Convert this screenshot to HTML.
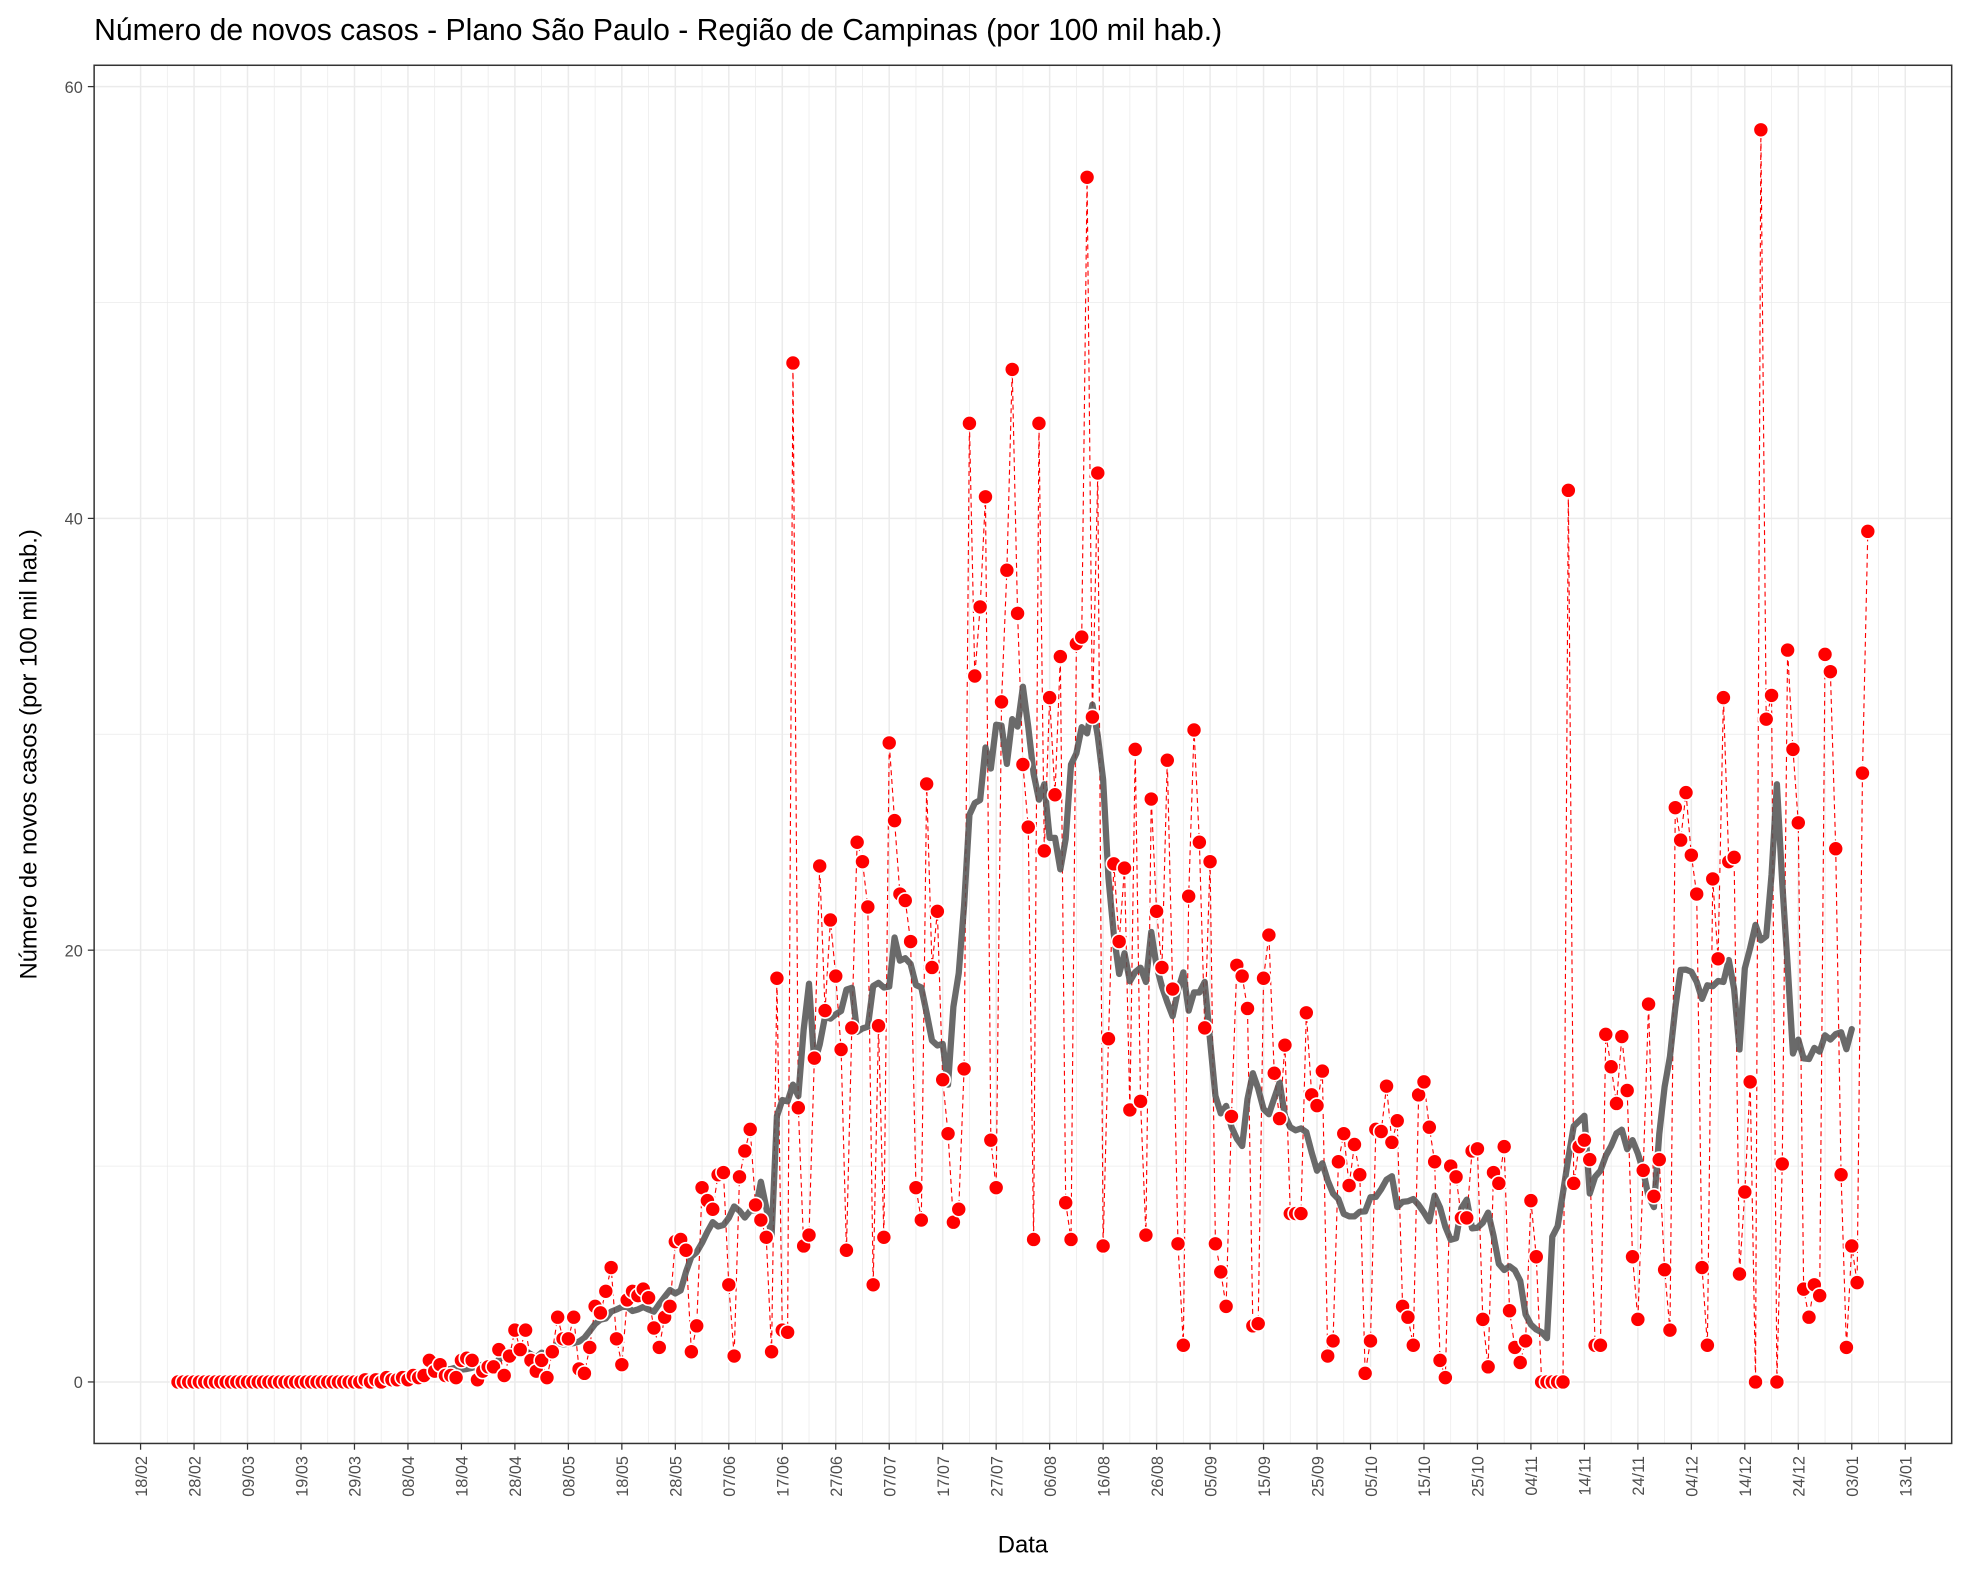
<!DOCTYPE html>
<html><head><meta charset="utf-8"><style>
html,body{margin:0;padding:0;background:#fff}
svg{display:block}
text{font-family:"Liberation Sans",Arial,sans-serif}
</style></head><body>
<svg id="chart" width="1968" height="1574" viewBox="0 0 1568 1254" preserveAspectRatio="none" xmlns="http://www.w3.org/2000/svg">
<text x="75" y="32" font-size="24" fill="#000">Número de novos casos - Plano São Paulo - Região de Campinas (por 100 mil hab.)</text>
<rect x="75" y="52" width="1480" height="1098" fill="#fff"/>
<g id="grid"></g>
<g id="series"></g>
<rect x="75" y="52" width="1480" height="1098" fill="none" stroke="#333" stroke-width="1.2"/>
<g id="axes"></g>
<text x="815" y="1237" font-size="19" text-anchor="middle">Data</text>
<text transform="translate(29,601) rotate(-90)" font-size="19" text-anchor="middle">Número de novos casos (por 100 mil hab.)</text>
</svg>
<script>
const tickLabels = ["18/02","28/02","09/03","19/03","29/03","08/04","18/04","28/04","08/05","18/05","28/05","07/06","17/06","27/06","07/07","17/07","27/07","06/08","16/08","26/08","05/09","15/09","25/09","05/10","15/10","25/10","04/11","14/11","24/11","04/12","14/12","24/12","03/01","13/01"];
const yTicks = [0,20,40,60];
const lastDay = 323;
const zerosPrefix = [0,0,0,0,0,0,0,0,0,0,0,0,0,0,0,0,0,0,0,0,0,0,0,0,0,0,0,0,0,0,0,0,0,0,0,0.1,0,0.1,0,0.2,0.1,0.1];
const cases = [0.2,0.1,0.3,0.2,0.3,1.0,0.5,0.8,0.3,0.3,0.2,1.0,1.1,1.0,0.1,0.5,0.7,0.7,1.5,0.3,1.2,2.4,1.5,2.4,1.0,0.5,1.0,0.2,1.4,3.0,2.0,2.0,3.0,0.6,0.4,1.6,3.5,3.2,4.2,5.3,2.0,0.8,3.8,4.2,4.0,4.3,3.9,2.5,1.6,3.0,3.5,6.5,6.6,6.1,1.4,2.6,9.0,8.4,8.0,9.6,9.7,4.5,1.2,9.5,10.7,11.7,8.2,7.5,6.7,1.4,18.7,2.4,2.3,47.2,12.7,6.3,6.8,15.0,23.9,17.2,21.4,18.8,15.4,6.1,16.4,25.0,24.1,22.0,4.5,16.5,6.7,29.6,26.0,22.6,22.3,20.4,9.0,7.5,27.7,19.2,21.8,14.0,11.5,7.4,8.0,14.5,44.4,32.7,35.9,41.0,11.2,9.0,31.5,37.6,46.9,35.6,28.6,25.7,6.6,44.4,24.6,31.7,27.2,33.6,8.3,6.6,34.2,34.5,55.8,30.8,42.1,6.3,15.9,24.0,20.4,23.8,12.6,29.3,13.0,6.8,27.0,21.8,19.2,28.8,18.2,6.4,1.7,22.5,30.2,25.0,16.4,24.1,6.4,5.1,3.5,12.3,19.3,18.8,17.3,2.6,2.7,18.7,20.7,14.3,12.2,15.6,7.8,7.8,7.8,17.1,13.3,12.8,14.4,1.2,1.9,10.2,11.5,9.1,11.0,9.6,0.4,1.9,11.7,11.6,13.7,11.1,12.1,3.5,3.0,1.7,13.3,13.9,11.8,10.2,1.0,0.2,10.0,9.5,7.6,7.6,10.7,10.8,2.9,0.7,9.7,9.2,10.9,3.3,1.6,0.9,1.9,8.4,5.8,0,0,0,0,0,41.3,9.2,10.9,11.2,10.3,1.7,1.7,16.1,14.6,12.9,16.0,13.5,5.8,2.9,9.8,17.5,8.6,10.3,5.2,2.4,26.6,25.1,27.3,24.4,22.6,5.3,1.7,23.3,19.6,31.7,24.1,24.3,5.0,8.8,13.9,0,58.0,30.7,31.8,0,10.1,33.9,29.3,25.9,4.3,3.0,4.5,4.0,33.7,32.9,24.7,9.6,1.6,6.3,4.6,28.2,39.4];

const NS="http://www.w3.org/2000/svg";
const X0=112, PXD=(1518-112)/330, Y0=1101, PXU=(1101-69)/60;
const xs=d=>X0+d*PXD, ys=v=>Y0-v*PXU;
function mk(tag,attrs,parent){const e=document.createElementNS(NS,tag);for(const k in attrs)e.setAttribute(k,attrs[k]);parent.appendChild(e);return e;}
const grid=document.getElementById('grid'),axes=document.getElementById('axes'),series=document.getElementById('series');

for(let i=0;i<tickLabels.length*2-1;i++){
  const x=xs(i*5);
  const l=mk('line',{x1:x,x2:x,y1:52,y2:1150,stroke:'#ebebeb','stroke-width':i%2?0.6:1.2},grid);
  
  
}
for(let v=0;v<=60;v+=10){
  const y=ys(v);
  const l=mk('line',{x1:75,x2:1555,y1:y,y2:y,stroke:'#ebebeb','stroke-width':v%20?0.6:1.2},grid);
  
  
}
yTicks.forEach(v=>{
  const y=ys(v);
  const t=mk('line',{x1:70,x2:75,y1:y,y2:y,stroke:'#333','stroke-width':1},axes);
  
  
  const lb=mk('text',{x:66,y:y+5,'font-size':13,'text-anchor':'end',fill:'#4d4d4d'},axes);
  lb.textContent=v;
  
  
});
tickLabels.forEach((s,i)=>{
  const x=xs(i*10);
  const t=mk('line',{x1:x,x2:x,y1:1150,y2:1155,stroke:'#333','stroke-width':1},axes);
  
  
  const lb=mk('text',{transform:`translate(${x+5},1160) rotate(-90)`,'font-size':13,'text-anchor':'end',fill:'#4d4d4d'},axes);
  lb.textContent=s;
  
  
});

const all=zerosPrefix.concat(cases);
const n=all.length, firstDay=lastDay-(n-1);
const pts=all.map((v,i)=>[xs(firstDay+i),ys(v)]);
const dl=mk('polyline',{points:pts.map(p=>p.join(',')).join(' '),fill:'none',stroke:'#ff0000','stroke-width':0.9,'stroke-dasharray':'4,3'},series);


const ma=[];
for(let i=3;i<n-3;i++){let s=0;for(let k=-3;k<=3;k++)s+=all[i+k];ma.push([xs(firstDay+i),ys(s/7)]);}
const ml=mk('polyline',{points:ma.map(p=>p.join(',')).join(' '),fill:'none',stroke:'#555','stroke-opacity':0.88,'stroke-width':5,'stroke-linejoin':'round','stroke-linecap':'round'},series);


pts.forEach(p=>{
  const c=mk('circle',{cx:p[0],cy:p[1],r:6,fill:'#ff0000',stroke:'#fff','stroke-width':1.3},series);
  
  
});
</script>
</body></html>
